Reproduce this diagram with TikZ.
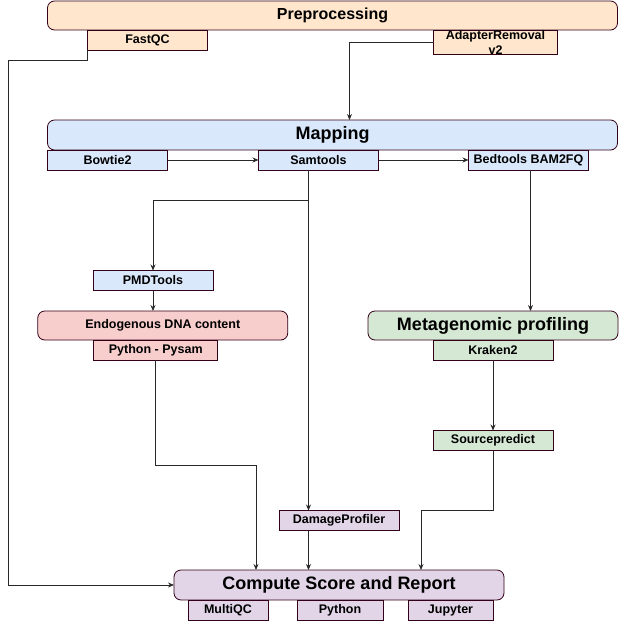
\documentclass[tikz,border=0pt]{standalone}
\usepackage{fontspec}
\setmainfont{Liberation Sans}
\usetikzlibrary{positioning,arrows.meta}
\definecolor{edgecol}{RGB}{51,0,25}
\definecolor{linkcol}{RGB}{40,40,40}
\definecolor{prefill}{RGB}{255,230,204}
\definecolor{mapfill}{RGB}{218,232,252}
\definecolor{endofill}{RGB}{248,206,204}
\definecolor{metafill}{RGB}{213,232,212}
\definecolor{repfill}{RGB}{225,213,231}

\begin{document}
\begin{tikzpicture}[x=1pt, y=1pt, line width=0.8pt,
    stage node/.style={draw=edgecol,rounded corners=7pt,inner sep=0pt,outer sep=0pt,
                       minimum height=29pt,font=\fontsize{18}{20}\selectfont\bfseries},
    tool node/.style={draw=edgecol,inner sep=0pt,outer sep=0pt,minimum height=20pt,
                      font=\fontsize{12.5}{14}\selectfont\bfseries},
    link/.style={draw=linkcol,-{Stealth[length=6pt,width=5pt]}}]

  \useasboundingbox (0,0) rectangle (619,-622);

  \node[stage node,fill=prefill,minimum width=570pt,font=\fontsize{16}{18}\selectfont\bfseries] (pre) at (332.5,-15.5) {Preprocessing};
  \node[tool node,fill=prefill,minimum width=120pt] (fastqc) [below right=0pt and 40pt of pre.south west] {FastQC};
  \node[tool node,fill=prefill,minimum width=124pt,align=center,font=\fontsize{12.5}{15}\selectfont\bfseries] (adapter) [below right=0pt and 386pt of pre.south west] {AdapterRemoval\\v2};

  \node[stage node,fill=mapfill,minimum width=570pt,minimum height=30pt] (map) at (332.5,-135) {Mapping};
  \node[tool node,fill=mapfill,minimum width=120pt] (bowtie) [below right=0pt and 0pt of map.south west] {Bowtie2};
  \node[tool node,fill=mapfill,minimum width=120pt] (samtools) [below right=0pt and 211pt of map.south west] {Samtools};
  \node[tool node,fill=mapfill,minimum width=120pt] (bedtools) [below right=0pt and 421pt of map.south west] {Bedtools BAM2FQ};

  \node[tool node,fill=mapfill,minimum width=120pt] (pmd) at (153,-280.5) {PMDTools};
  \node[stage node,fill=endofill,minimum width=250pt,font=\fontsize{12.5}{14}\selectfont\bfseries] (endo) at (162.75,-325.5) {Endogenous DNA content};
  \node[tool node,fill=endofill,minimum width=124pt] (pysam) [below right=0pt and 56pt of endo.south west] {Python - Pysam};

  \node[stage node,fill=metafill,minimum width=250pt] (meta) at (493,-325.5) {Metagenomic profiling};
  \node[tool node,fill=metafill,minimum width=120pt] (kraken) [below right=0pt and 65pt of meta.south west] {Kraken2};
  \node[tool node,fill=metafill,minimum width=120pt] (source) at (493,-440.5) {Sourcepredict};

  \node[tool node,fill=repfill,minimum width=120pt] (damage) at (339,-520.5) {DamageProfiler};
  \node[stage node,fill=repfill,minimum width=330pt,minimum height=30pt] (report) at (339,-585) {Compute Score and Report};
  \node[tool node,fill=repfill,minimum width=80pt] (multiqc) [below right=0pt and 14pt of report.south west] {MultiQC};
  \node[tool node,fill=repfill,minimum width=86pt] (python) [below right=0pt and 123pt of report.south west] {Python};
  \node[tool node,fill=repfill,minimum width=85pt] (jupyter) [below right=0pt and 234pt of report.south west] {Jupyter};

  \coordinate (rail) at (8,-60);
  \coordinate (tap) at ([xshift=-10pt]samtools.south);

  \draw[link] (fastqc.south west) |- (rail) |- (report.west);
  \draw[link] (adapter.west) -| ([xshift=17pt]map.north);
  \draw[link] (bowtie) -- (samtools);
  \draw[link] (samtools) -- (bedtools);
  \draw[link] (tap) |- ++(0,-30) -| (pmd.north);
  \draw[link] (tap) -- (tap |- damage.north);
  \draw[link] (pmd) -- (pmd |- endo.north);
  \draw[link] ([xshift=2pt]bedtools.south) -- ([xshift=2pt]bedtools.south |- meta.north);
  \draw[link] (kraken) -- (source);
  \draw[link] (pysam.south) -- ++(0,-105) -| ([xshift=-83pt]report.north);
  \draw[link] (tap |- damage.south) -- (tap |- report.north);
  \draw[link] (source.south) -- ++(0,-59.5) -| ([xshift=82pt]report.north);

\end{tikzpicture}
\end{document}
